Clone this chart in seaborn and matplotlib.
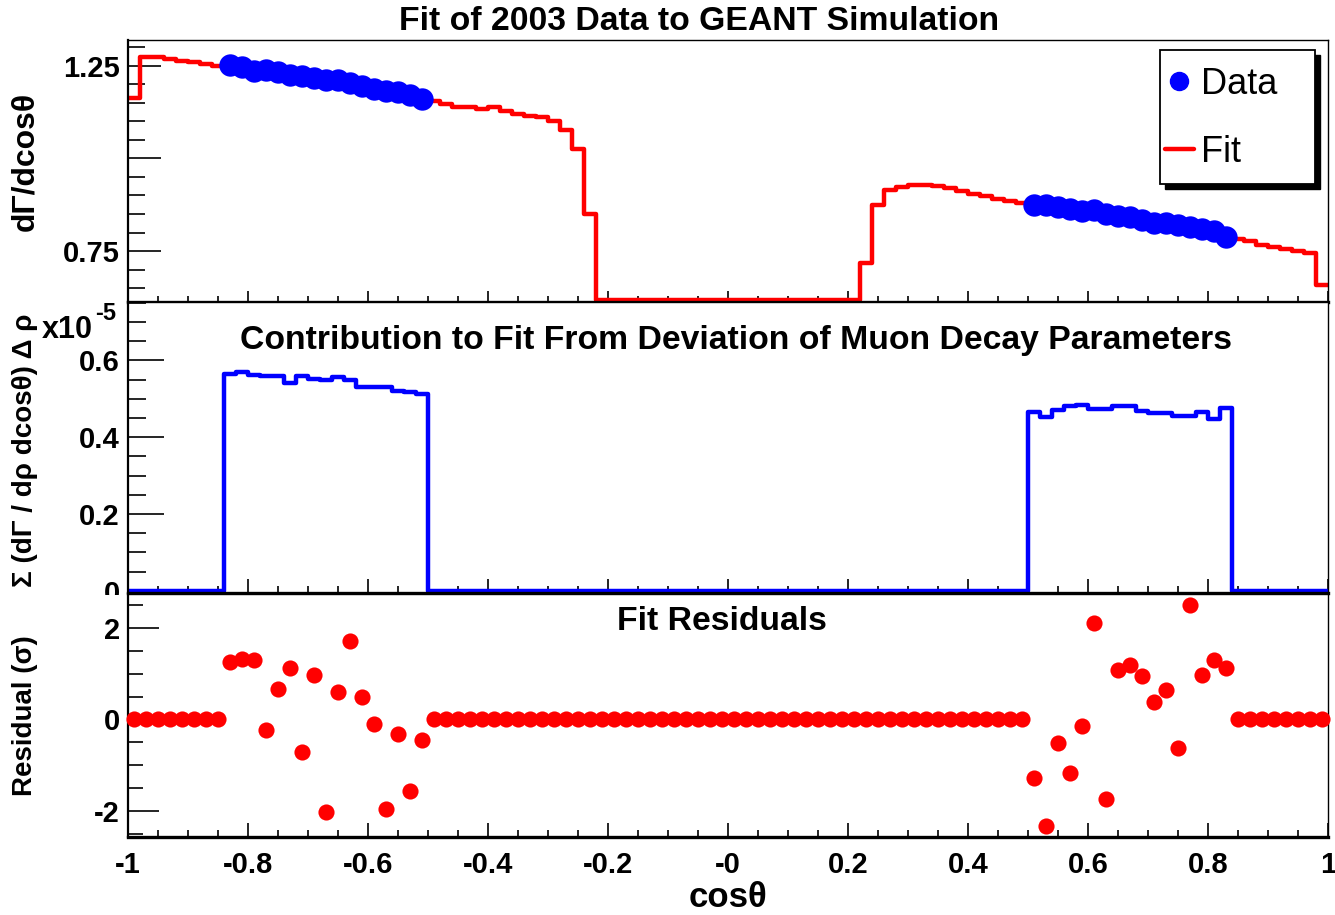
import numpy as np
import matplotlib
matplotlib.use("Agg")
import matplotlib.pyplot as plt
from matplotlib.lines import Line2D
from matplotlib.patches import Rectangle
import seaborn as sns

# ---------------------------------------------------------------------------
# Binning in cos(theta): 100 bins of width 0.02 from -1 to 1
# ---------------------------------------------------------------------------
bin_edges = np.linspace(-1.0, 1.0, 101)
bin_centers = 0.5 * (bin_edges[:-1] + bin_edges[1:])

# Fitted spectrum dGamma/dcos(theta) per bin (0 where there is no acceptance)
fit_values = (
    [1.162, 1.273, 1.273, 1.268, 1.263, 1.261, 1.255, 1.249]
    + [1.250, 1.244, 1.238, 1.234, 1.230, 1.225, 1.221, 1.216, 1.212,
       1.208, 1.203, 1.196, 1.189, 1.184, 1.178, 1.171, 1.162]
    + [1.155, 1.147, 1.138, 1.138, 1.133, 1.139, 1.129, 1.120, 1.115,
       1.112, 1.102, 1.076, 1.025, 0.850]
    + [0.0] * 22
    + [0.719, 0.874, 0.915, 0.924, 0.928, 0.928, 0.925, 0.919, 0.912,
       0.904, 0.899, 0.890, 0.885, 0.880]
    + [0.876, 0.871, 0.866, 0.861, 0.856, 0.851, 0.846, 0.841, 0.836,
       0.831, 0.825, 0.820, 0.815, 0.809, 0.804, 0.798, 0.792]
    + [0.783, 0.777, 0.766, 0.762, 0.756, 0.751, 0.744, 0.658]
)

# Measured 2003 data inside the two fiducial windows
data_cos = [-0.83, -0.81, -0.79, -0.77, -0.75, -0.73, -0.71, -0.69, -0.67,
            -0.65, -0.63, -0.61, -0.59, -0.57, -0.55, -0.53, -0.51,
            0.51, 0.53, 0.55, 0.57, 0.59, 0.61, 0.63, 0.65, 0.67,
            0.69, 0.71, 0.73, 0.75, 0.77, 0.79, 0.81, 0.83]
data_values = [1.252, 1.245, 1.236, 1.238, 1.232, 1.225, 1.221, 1.216, 1.211,
               1.210, 1.204, 1.194, 1.187, 1.182, 1.180, 1.171, 1.160,
               0.874, 0.874, 0.869, 0.863, 0.859, 0.861, 0.850, 0.846, 0.841,
               0.834, 0.825, 0.825, 0.820, 0.814, 0.809, 0.805, 0.789]

# Sum of (dGamma/drho/dcos) * delta(rho), in units of 1e-5
contribution_e5 = (
    [0.0] * 8
    + [0.564, 0.569, 0.562, 0.559, 0.559, 0.542, 0.559, 0.551, 0.548,
       0.556, 0.548, 0.531, 0.531, 0.531, 0.521, 0.517, 0.513]
    + [0.0] * 50
    + [0.465, 0.453, 0.470, 0.481, 0.484, 0.474, 0.474, 0.481, 0.481,
       0.468, 0.462, 0.462, 0.455, 0.455, 0.465, 0.448, 0.476]
    + [0.0] * 8
)

# Fit residuals in units of sigma
residuals = (
    [0.0] * 8
    + [1.25, 1.31, 1.29, -0.24, 0.66, 1.13, -0.71, 0.96, -2.02,
       0.60, 1.71, 0.50, -0.11, -1.95, -0.32, -1.57, -0.44]
    + [0.0] * 50
    + [-1.29, -2.32, -0.51, -1.18, -0.15, 2.10, -1.73, 1.07, 1.19,
       0.94, 0.38, 0.65, -0.63, 2.50, 0.96, 1.30, 1.13]
    + [0.0] * 8
)

x_ticks = [-1.0, -0.8, -0.6, -0.4, -0.2, 0.0, 0.2, 0.4, 0.6, 0.8, 1.0]
x_tick_labels = ["-1", "-0.8", "-0.6", "-0.4", "-0.2", "-0",
                 "0.2", "0.4", "0.6", "0.8", "1"]

# ---------------------------------------------------------------------------
# Style
# ---------------------------------------------------------------------------
sns.set_style("white")
plt.rcParams["font.family"] = ["Liberation Sans", "DejaVu Sans"]
plt.rcParams["font.weight"] = "bold"
plt.rcParams["axes.labelweight"] = "bold"
plt.rcParams["text.color"] = "black"
plt.rcParams["axes.labelcolor"] = "black"

RED = "#ff0000"
BLUE = "#0000ff"

W, H = 1335, 915
fig = plt.figure(figsize=(W / 100, H / 100), dpi=100)
fig.patch.set_facecolor("white")


def px_axes(x0, y0, x1, y1):
    """Add axes given pixel box (left, top, right, bottom)."""
    return fig.add_axes([x0 / W, 1 - y1 / H, (x1 - x0) / W, (y1 - y0) / H])


ax_top = px_axes(128, 40, 1328, 302)
ax_mid = px_axes(128, 302, 1328, 593)
ax_res = px_axes(128, 594, 1328, 837)


def style_axis(ax, ymaj_len, ymin_len, xmaj_len, xmin_len):
    ax.set_facecolor("white")
    ax.set_xlim(-1, 1)
    ax.set_xticks(x_ticks)
    ax.xaxis.set_minor_locator(plt.MultipleLocator(0.05))
    ax.tick_params(axis="x", which="both", direction="in", bottom=True,
                   top=False, width=1.2, colors="black", labelsize=21, pad=10)
    ax.tick_params(axis="x", which="major", length=xmaj_len)
    ax.tick_params(axis="x", which="minor", length=xmin_len)
    ax.tick_params(axis="y", which="both", direction="in", left=True,
                   right=False, width=1.2, colors="black", labelsize=21, pad=6)
    ax.tick_params(axis="y", which="major", length=ymaj_len)
    ax.tick_params(axis="y", which="minor", length=ymin_len)
    for side, lw in (("left", 1.6), ("bottom", 2.4), ("top", 1.0), ("right", 1.0)):
        ax.spines[side].set_visible(True)
        ax.spines[side].set_color("black")
        ax.spines[side].set_linewidth(lw)
    ax.grid(False)


edges_list = bin_edges.tolist()

# ---------------------------------------------------------------------------
# Top: data and fitted spectrum
# ---------------------------------------------------------------------------
top_ylim = (0.613, 1.319)
fit_drawn = np.maximum(np.asarray(fit_values), top_ylim[0] + 0.006)
sns.histplot(x=bin_centers, weights=fit_drawn, bins=edges_list, element="step",
             fill=False, color=RED, linewidth=3.2, ax=ax_top)
sns.scatterplot(x=data_cos, y=data_values, color=BLUE, s=260, linewidth=0,
                ax=ax_top, zorder=4)
style_axis(ax_top, 24, 12, 8, 4)
ax_top.set_ylim(*top_ylim)
ax_top.set_yticks([0.75, 1.0, 1.25], ["0.75", "", "1.25"])
ax_top.yaxis.set_minor_locator(plt.MultipleLocator(0.05))
ax_top.tick_params(axis="x", labelbottom=False)
ax_top.set_xlabel("")
ax_top.set_ylabel("dΓ/dcosθ", fontsize=23)
ax_top.yaxis.set_label_coords(-0.086, 0.535)
ax_top.yaxis.label.set_va("center")

# Legend: boxed with a solid drop shadow
box_l, box_r = (1160 - 128) / 1200, (1315 - 128) / 1200
box_t, box_b = (302 - 50) / 262, (302 - 184) / 262
shadow_dx, shadow_dy = 5 / 1200, 5 / 262
ax_top.add_patch(Rectangle((box_l + shadow_dx, box_b - shadow_dy),
                           box_r - box_l, box_t - box_b,
                           transform=ax_top.transAxes, facecolor="black",
                           edgecolor="black", zorder=6))
ax_top.add_patch(Rectangle((box_l, box_b), box_r - box_l, box_t - box_b,
                           transform=ax_top.transAxes, facecolor="white",
                           edgecolor="black", linewidth=1.3, zorder=6.5))
legend_handles = [
    Line2D([], [], marker="o", linestyle="none", color=BLUE, markersize=13),
    Line2D([], [], color=RED, linewidth=3.2),
]
leg = ax_top.legend(legend_handles, ["Data", "Fit"],
                    loc="upper left",
                    bbox_to_anchor=((1165 - 128) / 1200, (302 - 67) / 262),
                    borderaxespad=0, borderpad=0, frameon=False,
                    handlelength=0.8, handletextpad=0.2, labelspacing=0.9,
                    prop={"weight": "normal", "size": 26})
leg.set_zorder(7)

# ---------------------------------------------------------------------------
# Middle: contribution from the muon decay parameter deviation
# ---------------------------------------------------------------------------
sns.histplot(x=bin_centers, weights=contribution_e5, bins=edges_list,
             element="step", fill=False, color=BLUE, linewidth=3.2, ax=ax_mid)
style_axis(ax_mid, 26, 13, 10, 5)
ax_mid.set_ylim(-0.006, 0.752)
ax_mid.set_yticks([0.0, 0.2, 0.4, 0.6], ["0", "0.2", "0.4", "0.6"])
ax_mid.yaxis.set_minor_locator(plt.MultipleLocator(0.05))
ax_mid.tick_params(axis="x", labelbottom=False)
ax_mid.set_xlabel("")
ax_mid.set_ylabel("Σ (dΓ / dρ dcosθ) Δ ρ", fontsize=20)
ax_mid.yaxis.set_label_coords(-0.086, 0.49)
ax_mid.yaxis.label.set_va("center")

# ---------------------------------------------------------------------------
# Bottom: residuals
# ---------------------------------------------------------------------------
sns.scatterplot(x=bin_centers, y=residuals, color=RED, s=135, linewidth=0,
                ax=ax_res, zorder=4, clip_on=False)
style_axis(ax_res, 22, 11, 10, 5)
ax_res.set_ylim(-2.57, 2.74)
ax_res.set_yticks([-2, 0, 2], ["-2", "0", "2"])
ax_res.yaxis.set_minor_locator(plt.MultipleLocator(0.5))
ax_res.set_xticks(x_ticks, x_tick_labels)
ax_res.set_ylabel("Residual (σ)", fontsize=20)
ax_res.yaxis.set_label_coords(-0.086, 0.5)
ax_res.yaxis.label.set_va("center")
ax_res.set_xlabel("cosθ", fontsize=25)
ax_res.xaxis.set_label_coords(0.5, -0.18)

# The middle pad's "0" label is cut by the pad below it
fig.add_artist(Rectangle((60 / W, 1 - 607 / H), 66 / W, 12 / H,
                         transform=fig.transFigure, facecolor="white",
                         edgecolor="none", zorder=10))

# ---------------------------------------------------------------------------
# Titles and the axis exponent
# ---------------------------------------------------------------------------
fig.text(699 / W, 1 - 21 / H, "Fit of 2003 Data to GEANT Simulation",
         ha="center", va="center", fontsize=24.3)
fig.text(736 / W, 1 - 341 / H,
         "Contribution to Fit From Deviation of Muon Decay Parameters",
         ha="center", va="center", fontsize=24.3)
fig.text(722 / W, 1 - 622 / H, "Fit Residuals",
         ha="center", va="center", fontsize=24.3)
fig.text(42 / W, 1 - 338 / H, "x10", ha="left", va="baseline", fontsize=22)
fig.text(95 / W, 1 - 320 / H, "-5", ha="left", va="baseline", fontsize=17)

fig.savefig("out.png", dpi=100, facecolor="white")
